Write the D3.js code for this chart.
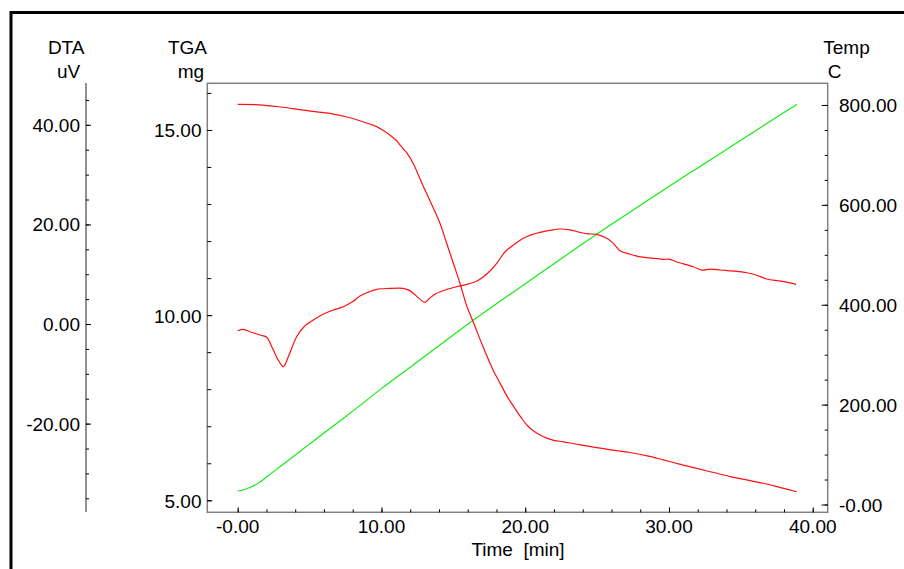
<!DOCTYPE html>
<html><head><meta charset="utf-8">
<script src="https://cdn.jsdelivr.net/npm/d3@7"></script>
<style>
body{margin:0;background:#fff}
svg{display:block;font-family:"Liberation Sans",Arial,sans-serif}
</style>
</head><body>
<svg id="c" width="904" height="569"></svg>
<script>
// ---- data ----
const timeTicks = [0, 10, 20, 30, 40];
const timeTickLabels = ["-0.00", "10.00", "20.00", "30.00", "40.00"];
const timeMinor = [0,2,4,6,8,10,12,14,16,18,20,22,24,26,28,30,32,34,36,38,40];

const dtaTicks = [40, 20, 0, -20];
const dtaTickLabels = ["40.00", "20.00", "0.00", "-20.00"];
const dtaMinor = [45,40,35,30,25,20,15,10,5,0,-5,-10,-15,-20,-25,-30,-35];

const tgaTicks = [15, 10, 5];
const tgaTickLabels = ["15.00", "10.00", "5.00"];
const tgaMinor = [16,15,14,13,12,11,10,9,8,7,6,5];

const tempTicks = [800, 600, 400, 200, 0];
const tempTickLabels = ["800.00", "600.00", "400.00", "200.00", "-0.00"];
const tempMinor = [800,750,700,650,600,550,500,450,400,350,300,250,200,150,100,50,0];

// TGA (mg) vs time (min)
const tgaTime = [0,1.5,3,4.3,5.5,6.65,7.6,8.5,9.2,9.67,10.1,10.6,11.0,11.3,11.8,12.2,12.6,12.9,13.5,14.07,14.5,15.0,15.46,15.93,16.4,17.08,17.76,18.13,18.75,19.25,19.76,20.15,20.56,21.0,21.5,22.0,22.65,23.5,24.97,26.0,27.29,28.5,29.6,30.8,31.93,33.1,34.25,35.4,36.56,37.7,38.89];
const tgaMass = [15.69,15.68,15.62,15.55,15.49,15.43,15.35,15.25,15.16,15.09,14.99,14.86,14.73,14.59,14.36,14.10,13.76,13.49,12.98,12.48,11.98,11.40,10.86,10.25,9.80,9.13,8.52,8.25,7.80,7.50,7.21,7.02,6.88,6.77,6.68,6.62,6.58,6.52,6.42,6.36,6.29,6.20,6.09,5.97,5.86,5.75,5.64,5.55,5.46,5.35,5.23];

// DTA (uV) vs time (min)
const dtaTime = [0,0.39,0.9,1.55,2.02,2.37,2.82,3.17,3.52,4.1,4.6,5.26,5.9,6.65,7.35,8.0,8.5,9.1,9.67,10.5,11.52,11.9,12.22,12.6,13.03,13.4,13.84,14.5,15.23,16.0,16.63,17.1,17.55,18.1,18.6,19.2,19.87,20.4,21.03,21.7,22.42,23.1,23.81,24.4,24.97,25.67,26.13,26.6,27.2,27.76,28.91,29.6,30.07,30.5,31.69,32.28,32.85,33.6,34.48,35.41,36.1,36.8,37.8,38.84];
const dtaValue = [-1.35,-1.06,-1.6,-2.21,-2.67,-4.56,-7.23,-8.57,-6.57,-2.55,-0.6,0.80,1.9,2.81,3.47,4.5,5.62,6.4,6.97,7.15,7.17,6.8,6.16,5.2,4.36,5.3,6.16,6.9,7.49,8.0,8.63,9.5,10.64,12.5,14.52,15.9,17.21,17.9,18.41,18.8,19.08,18.9,18.41,18.1,18.01,17.21,16.2,14.72,14.1,13.65,13.19,12.99,12.99,12.51,11.51,10.84,11.04,10.85,10.64,10.30,9.8,9.04,8.6,7.97];

// Temperature (C) vs time (min)
const tempTime = [0,0.5,1,1.5,2,3,4,5,6,8,10,12,14,16,18,20,22,24,26,28,30,32,34,36,38,38.9];
const tempValue = [27,30,36,44,55,77,99,121,143,187,232,275,318,361,402,442,482,522,561,599,637,674,711,748,785,801];

// ---- drawing ----
const svg = d3.select("#c");
const FS = 19;

const x = d3.scaleLinear().domain([-2.115, 41.04]).range([207.3, 827.7]);
const yTGA = d3.scaleLinear().domain([4.676, 16.26]).range([512.3, 83.3]);
const yDTA = d3.scaleLinear().domain([-37.75, 48.4]).range([512, 83]);
const yTemp = d3.scaleLinear().domain([-15.6, 843.4]).range([512.3, 83.3]);

// outer frame
svg.append("rect").attr("x", 11).attr("y", 12.5).attr("width", 1000).attr("height", 1000)
  .attr("fill", "none").attr("stroke", "#000").attr("stroke-width", 3);

// plot box
svg.append("rect").attr("x", 207.3).attr("y", 83.3).attr("width", 620.4).attr("height", 429)
  .attr("fill", "none").attr("stroke", "#808080").attr("stroke-width", 1.5);

function styleAxis(g){ g.selectAll(".tick line").attr("stroke", "#000"); g.select(".domain").remove(); g.selectAll("text").remove(); }

// x axis (ticks pointing up into plot)
const gx = svg.append("g").attr("transform", "translate(0,512.3)");
gx.append("g").call(d3.axisTop(x).tickValues(timeMinor).tickSize(3).tickFormat("")).call(styleAxis);
gx.append("g").call(d3.axisTop(x).tickValues(timeTicks).tickSize(5).tickFormat("")).call(styleAxis);
svg.append("g").selectAll("text").data(timeTicks).join("text")
  .attr("x", d => x(d)).attr("y", 532.5).attr("text-anchor", "middle").attr("font-size", FS)
  .text((d, i) => timeTickLabels[i]);
svg.append("text").attr("x", 518).attr("y", 555.5).attr("text-anchor", "middle").attr("font-size", FS)
  .style("white-space", "pre").text("Time  [min]");

// DTA axis (separate line at x=86, ticks to the right)
const gd = svg.append("g").attr("transform", "translate(86,0)");
gd.append("line").attr("x1", 0).attr("x2", 0).attr("y1", 83).attr("y2", 512).attr("stroke", "#222").attr("stroke-width", 1);
gd.append("g").call(d3.axisRight(yDTA).tickValues(dtaMinor).tickSize(3).tickFormat("")).call(styleAxis);
gd.append("g").call(d3.axisRight(yDTA).tickValues(dtaTicks).tickSize(5).tickFormat("")).call(styleAxis);
svg.append("g").selectAll("text").data(dtaTicks).join("text")
  .attr("x", 80).attr("y", d => yDTA(d) + 7).attr("text-anchor", "end").attr("font-size", FS)
  .text((d, i) => dtaTickLabels[i]);
svg.append("text").attr("x", 66.2).attr("y", 54).attr("text-anchor", "middle").attr("font-size", FS).text("DTA");
svg.append("text").attr("x", 68.5).attr("y", 78).attr("text-anchor", "middle").attr("font-size", FS).text("uV");

// TGA axis (plot left edge, ticks inward)
const gt = svg.append("g").attr("transform", "translate(207.3,0)");
gt.append("g").call(d3.axisRight(yTGA).tickValues(tgaMinor).tickSize(4).tickFormat("")).call(styleAxis);
gt.append("g").call(d3.axisRight(yTGA).tickValues(tgaTicks).tickSize(5).tickFormat("")).call(styleAxis);
svg.append("g").selectAll("text").data(tgaTicks).join("text")
  .attr("x", 201.5).attr("y", d => yTGA(d) + 7.5).attr("text-anchor", "end").attr("font-size", FS)
  .text((d, i) => tgaTickLabels[i]);
svg.append("text").attr("x", 187.5).attr("y", 54).attr("text-anchor", "middle").attr("font-size", FS).text("TGA");
svg.append("text").attr("x", 191).attr("y", 78).attr("text-anchor", "middle").attr("font-size", FS).text("mg");

// Temp axis (plot right edge, ticks inward)
const gr = svg.append("g").attr("transform", "translate(827.7,0)");
gr.append("g").call(d3.axisLeft(yTemp).tickValues(tempMinor).tickSize(3).tickFormat("")).call(styleAxis);
gr.append("g").call(d3.axisLeft(yTemp).tickValues(tempTicks).tickSize(6).tickFormat("")).call(styleAxis);
svg.append("g").selectAll("text").data(tempTicks).join("text")
  .attr("x", 839).attr("y", d => yTemp(d) + 7.3).attr("text-anchor", "start").attr("font-size", FS)
  .text((d, i) => tempTickLabels[i]);
svg.append("text").attr("x", 823.3).attr("y", 54.3).attr("font-size", FS).text("Temp");
svg.append("text").attr("x", 827.7).attr("y", 77.5).attr("font-size", FS).text("C");

// curves
const tempData = tempTime.map((t, i) => ({t, v: tempValue[i]}));
const tgaData = tgaTime.map((t, i) => ({t, v: tgaMass[i]}));
const dtaData = dtaTime.map((t, i) => ({t, v: dtaValue[i]}));
const smooth = d3.curveCatmullRom.alpha(0.5);

svg.append("path").datum(tempData)
  .attr("d", d3.line().x(d => x(d.t)).y(d => yTemp(d.v)).curve(smooth))
  .attr("fill", "none").attr("stroke", "#11ee11").attr("stroke-width", 1.2);
svg.append("path").datum(tgaData)
  .attr("d", d3.line().x(d => x(d.t)).y(d => yTGA(d.v)).curve(smooth))
  .attr("fill", "none").attr("stroke", "#ff1010").attr("stroke-width", 1.2);
svg.append("path").datum(dtaData)
  .attr("d", d3.line().x(d => x(d.t)).y(d => yDTA(d.v)).curve(smooth))
  .attr("fill", "none").attr("stroke", "#ff1010").attr("stroke-width", 1.2);
</script>
</body></html>
